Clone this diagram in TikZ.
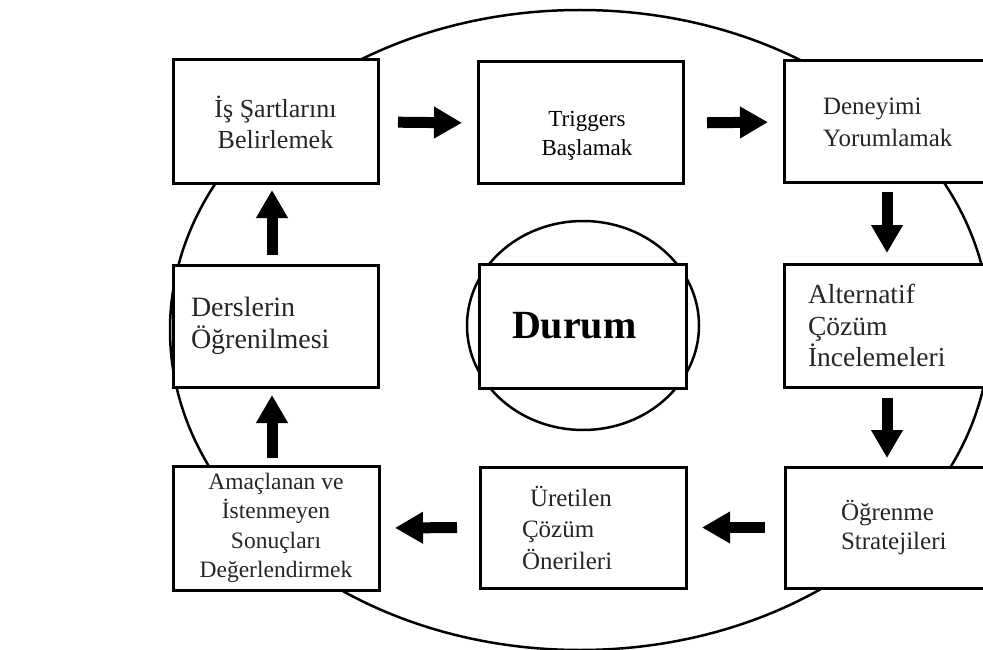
\documentclass[tikz,border=0pt]{standalone}
\usepackage{fontspec}
\setmainfont{Liberation Serif}
\usetikzlibrary{arrows.meta}
\tikzset{
  panel/.style={draw=black, line width=3pt, fill=white, inner ysep=0pt, outer sep=0pt, text=black!85},
  centred/.style={align=center, inner xsep=4pt},
  flush/.style={align=left},
  ring/.style={draw=black, line width=2.5pt},
  blockarrow/.style={line width=11pt, -{Triangle[length=28pt,width=30pt]}},
}
\newcommand\fsz[2]{\fontsize{#1pt}{#2pt}\selectfont}

\begin{document}
\begin{tikzpicture}[x=1pt,y=-1pt]
\useasboundingbox (0,0) rectangle (983,650);
\clip (0,0) rectangle (983,650);

% outer cycle and inner situation ring
\draw[ring] (580,330) ellipse [x radius=410pt, y radius=320pt];
\draw[ring] (583,325.5) ellipse [x radius=116pt, y radius=104.5pt];

% stages of the cycle
\node[panel, centred, minimum width=205pt, minimum height=124pt, font=\fsz{26}{31}] (b1) at (275.5,122) {İş Şartlarını\\Belirlemek};
\node[panel, minimum width=205pt, minimum height=122pt] (b2) at (580.5,123) {};
\node[font=\fsz{23}{29}, align=center, inner sep=0pt, text=black] (b2t) at (587,136) {Triggers\\Başlamak};
\node[panel, flush, inner xsep=39pt, text width=140pt, minimum height=122pt, font=\fsz{25}{32}] (b3) at (893,122) {Deneyimi\\Yorumlamak};
\node[panel, flush, inner xsep=24pt, text width=170pt, minimum height=123pt, font=\fsz{27.5}{31.5}] (b4) at (893,325.5) {Alternatif\\Çözüm\\İncelemeleri};
\node[panel, flush, inner xsep=56pt, text width=120pt, minimum height=121pt, font=\fsz{25}{28.5}] (b5) at (901,527.5) {Öğrenme\\Stratejileri};
\node[panel, flush, inner xsep=42pt, text width=122pt, minimum height=121pt, font=\fsz{25}{31.5}] (b6) at (583,527.5) {\hspace*{8pt}Üretilen\\Çözüm\\Önerileri};
\node[panel, centred, minimum width=206pt, minimum height=124pt, font=\fsz{23.5}{29.5}] (b7) at (276,528) {Amaçlanan ve\\İstenmeyen\\Sonuçları\\Değerlendirmek};
\node[panel, flush, inner xsep=18pt, text width=169pt, minimum height=122pt, font=\fsz{28}{32}] (b8) at (275.5,326) {Derslerin\\Öğrenilmesi};
\node[panel, flush, inner xsep=33pt, text width=141pt, minimum height=124pt, text=black, font=\fsz{40}{48}\bfseries] (dur) at (582.5,326) {Durum};

% flow arrows
\draw[blockarrow, shorten <=20pt, shorten >=16pt] (b1.east) -- (b2.west);
\draw[blockarrow, shorten <=24pt, shorten >=16pt] (b2.east) -- (b3.west);
\draw[blockarrow, shorten <=9pt, shorten >=11pt] ([xshift=-6pt]b3.south) -- ([xshift=-6pt]b4.north);
\draw[blockarrow, shorten <=11pt, shorten >=9pt] ([xshift=-6pt]b4.south) -- ([xshift=-14pt]b5.north);
\draw[blockarrow, shorten <=20pt, shorten >=16pt] (b5.west) -- (b6.east);
\draw[blockarrow, shorten <=23pt, shorten >=16pt] (b6.west) -- (b7.east);
\draw[blockarrow, shorten <=8pt, shorten >=8pt] ([xshift=-4pt]b7.north) -- ([xshift=-3.5pt]b8.south);
\draw[blockarrow, shorten <=10pt, shorten >=6pt] ([xshift=-3.5pt]b8.north) -- ([xshift=-3.5pt]b1.south);
\end{tikzpicture}
\end{document}
